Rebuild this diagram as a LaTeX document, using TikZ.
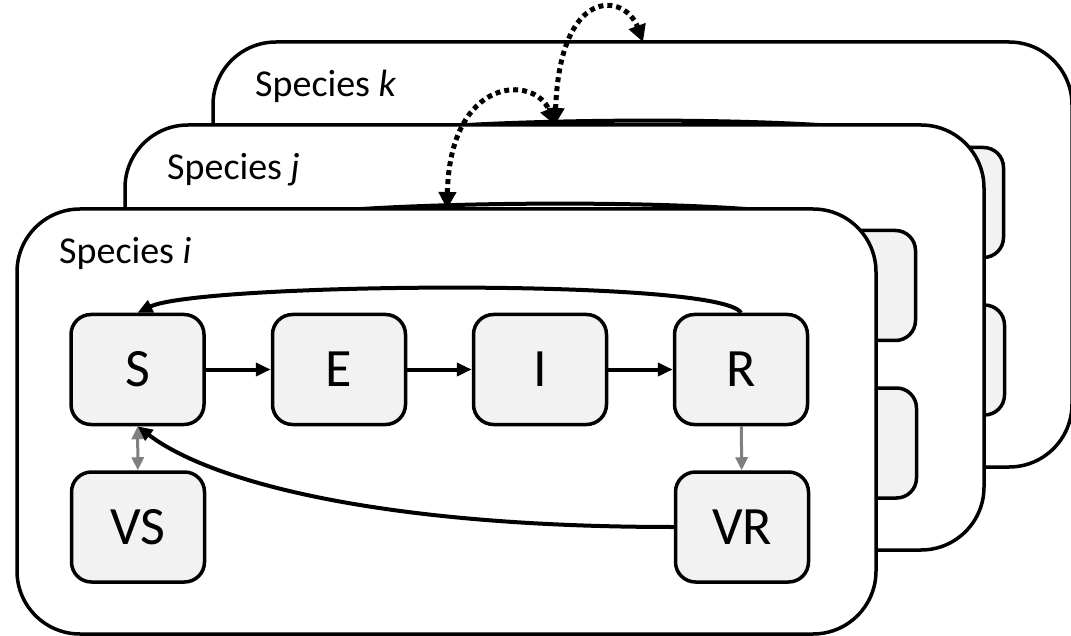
\documentclass[tikz,border=0pt]{standalone}
\usepackage{fontspec}
\setmainfont{Carlito}
\usetikzlibrary{arrows.meta}
\definecolor{boxfill}{HTML}{F2F2F2}
\definecolor{flowgray}{HTML}{7F7F7F}
\tikzset{
  panel/.style={draw, line width=3.5pt, fill=white, rounded corners=63pt,
    minimum width=859pt, minimum height=425pt, inner sep=0pt},
  state/.style={draw, line width=3.5pt, fill=boxfill, rounded corners=20pt,
    minimum width=133pt, minimum height=110pt, inner sep=0pt,
    font=\fontsize{54}{60}\selectfont},
  title/.style={anchor=base west, inner sep=0pt, font=\fontsize{38}{44}\selectfont},
  flow/.style={line width=4pt, >={Triangle[length=15pt,width=13pt]}, ->},
  vacc/.style={line width=3pt, flowgray, >={Triangle[length=13pt,width=12pt]}},
  link/.style={line width=5pt, dash pattern=on 5pt off 4pt,
    >={Triangle[length=17pt,width=17pt]}, <->}
}
\begin{document}
\begin{tikzpicture}[x=1pt,y=-1pt]
\useasboundingbox (0,0) rectangle (1071,636);
% species behind, only their edges show
\foreach \dx/\dy/\sid in {196/-167/k,108/-84/j}{
\begin{scope}[shift={(\dx,\dy)}]
\path node (P\sid) at (446.5,421.5) [panel] {}
      node (L\sid) at (59,264) [title] {Species \textit{\sid}}
      node (S\sid) at (137.5,369.5) [state] {}
      node (R\sid) at (741,369.5) [state] {}
      node (VR\sid) at (742,527) [state] {}
;
\coordinate (T\sid) at (447,209);
\draw[flow] (R\sid.north) .. controls +(-21,-35) and +(62,-30) .. (S\sid.north);
\end{scope}
}
% species i in front
\path node (Pi) at (446.5,421.5) [panel] {}
      node (Li) at (59,264) [title] {Species \textit{i}}
      node (Si) at (137.5,369.5) [state] {S}
      node (Ei) at (339,369.5) [state] {E}
      node (Ii) at (540,369.5) [state] {I}
      node (Ri) at (741,369.5) [state] {R}
      node (VSi) at (138,527) [state] {VS}
      node (VRi) at (742,527) [state] {VR}
;
\coordinate (Ti) at (447,209);
\draw[flow] (Si) -- (Ei);
\draw[flow] (Ei) -- (Ii);
\draw[flow] (Ii) -- (Ri);
\draw[flow] (Ri.north) .. controls +(-21,-35) and +(62,-30) .. (Si.north);
\draw[vacc,<->] (Si) -- (VSi);
\draw[vacc,->] (Ri) -- (VRi);
\draw[flow] (VRi.west) .. controls +(-296,0) and +(72,55) .. (Si.south);
% contacts between species
\draw[link] (Ti) .. controls +(3,-134) and +(-20,-50) .. (Tj);
\draw[link] (Tj) .. controls +(5,-140) and +(-18,-49) .. (Tk);
\end{tikzpicture}
\end{document}
